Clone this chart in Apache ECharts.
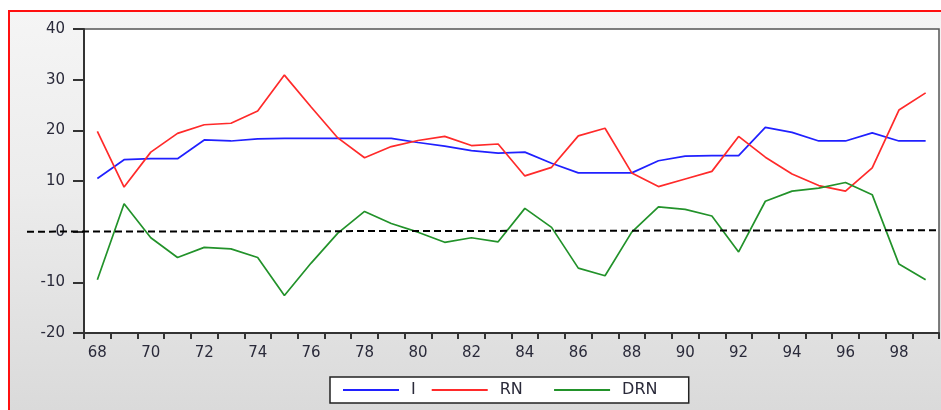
<!DOCTYPE html>
<html>
<head>
<meta charset="utf-8">
<script src="https://cdn.jsdelivr.net/npm/echarts@6/dist/echarts.min.js"></script>
<style>
  html, body { margin: 0; padding: 0; background: #ffffff; }
  #frame {
    position: absolute; left: 8px; top: 10px; width: 933px; height: 400px;
    border-left: 2px solid #ff1010; border-top: 2px solid #ff1010;
    box-sizing: border-box;
    background: linear-gradient(to bottom, #f5f5f5 0%, #ececec 45%, #dadada 100%);
  }
  #chart { position: absolute; left: 0; top: 0; width: 941px; height: 410px; }
</style>
</head>
<body>
<div id="frame"></div>
<div id="chart"></div>
<script>
const years = ['68','69','70','71','72','73','74','75','76','77','78','79','80','81','82','83',
               '84','85','86','87','88','89','90','91','92','93','94','95','96','97','98','99'];
const seriesI = [10.5,14.2,14.4,14.4,18.1,17.9,18.3,18.4,18.4,18.4,18.4,18.4,17.6,16.9,16.0,15.5,
                 15.7,13.5,11.6,11.6,11.6,14.0,14.9,15.0,15.0,20.6,19.6,17.9,17.9,19.5,17.9,17.9];
const seriesRN = [19.8,8.8,15.7,19.4,21.1,21.4,23.8,30.9,24.6,18.5,14.6,16.8,18.0,18.8,17.0,17.3,
                  11.0,12.7,18.9,20.4,11.6,8.9,10.4,11.9,18.8,14.7,11.4,9.1,8.0,12.6,24.0,27.4];
const seriesDRN = [-9.5,5.5,-1.2,-5.1,-3.1,-3.4,-5.1,-12.6,-6.2,-0.3,4.0,1.6,-0.1,-2.1,-1.2,-2.0,
                   4.6,0.85,-7.2,-8.7,-0.1,4.9,4.4,3.1,-4.0,6.0,8.0,8.6,9.7,7.3,-6.4,-9.5];
const yTicks = { min: -20, max: 40, interval: 10 };

const chart = echarts.init(document.getElementById('chart'), null, { renderer: 'canvas' });
const fontFamily = 'DejaVu Sans, Arial, sans-serif';
const textColor = '#2a2a3a';
// trailing non-breaking spaces widen legend entries (layout only)
const legendPad = { I: '', RN: '\u00a0\u00a0\u00a0', DRN: '\u00a0\u00a0\u00a0' };
const lineSeries = (name, data, color, extra) => Object.assign({
  name, type: 'line', data, symbol: 'none', showSymbol: false,
  lineStyle: { color, width: 1.7 }, itemStyle: { color },
  animation: false, z: 3
}, extra || {});

chart.setOption({
  backgroundColor: 'transparent',
  animation: false,
  grid: {
    left: 84, right: 2, top: 29, bottom: 77,
    show: true, backgroundColor: '#ffffff', borderColor: '#555555', borderWidth: 1.5
  },
  legend: {
    data: ['I', 'RN', 'DRN'],
    formatter: name => name + legendPad[name],
    left: 330, top: 377,
    icon: 'rect', itemWidth: 56, itemHeight: 2, itemGap: 16,
    backgroundColor: '#ffffff', borderColor: '#222222', borderWidth: 1.5,
    padding: [5, 16, 5, 13],
    textStyle: { fontFamily, fontSize: 16, color: textColor, padding: [0, 0, 0, 7] }
  },
  xAxis: {
    type: 'category', data: years, boundaryGap: true,
    axisLine: { show: true, onZero: false, lineStyle: { color: '#333333', width: 2 } },
    axisTick: { show: true, interval: 0, length: 6, lineStyle: { color: '#333333', width: 2 } },
    axisLabel: { interval: 1, margin: 13, fontFamily, fontSize: 15, color: textColor },
    splitLine: { show: false }
  },
  yAxis: {
    type: 'value', min: yTicks.min, max: yTicks.max, interval: yTicks.interval,
    axisLine: { show: true, lineStyle: { color: '#333333', width: 2 } },
    axisTick: { show: true, length: 11, lineStyle: { color: '#333333', width: 2 } },
    axisLabel: { margin: 19, fontFamily, fontSize: 15, color: textColor },
    splitLine: { show: false }
  },
  series: [
    lineSeries('I', seriesI, '#2020ff'),
    lineSeries('RN', seriesRN, '#ff2a2a'),
    lineSeries('DRN', seriesDRN, '#22922a', {
      markLine: {
        silent: true, symbol: ['none', 'none'], animation: false,
        label: { show: false },
        lineStyle: { color: '#000000', type: [7, 4], width: 2 },
        data: [[{ x: 27, yAxis: 0 }, { x: 939, yAxis: 0.3 }]]
      }
    })
  ]
});
</script>
</body>
</html>
